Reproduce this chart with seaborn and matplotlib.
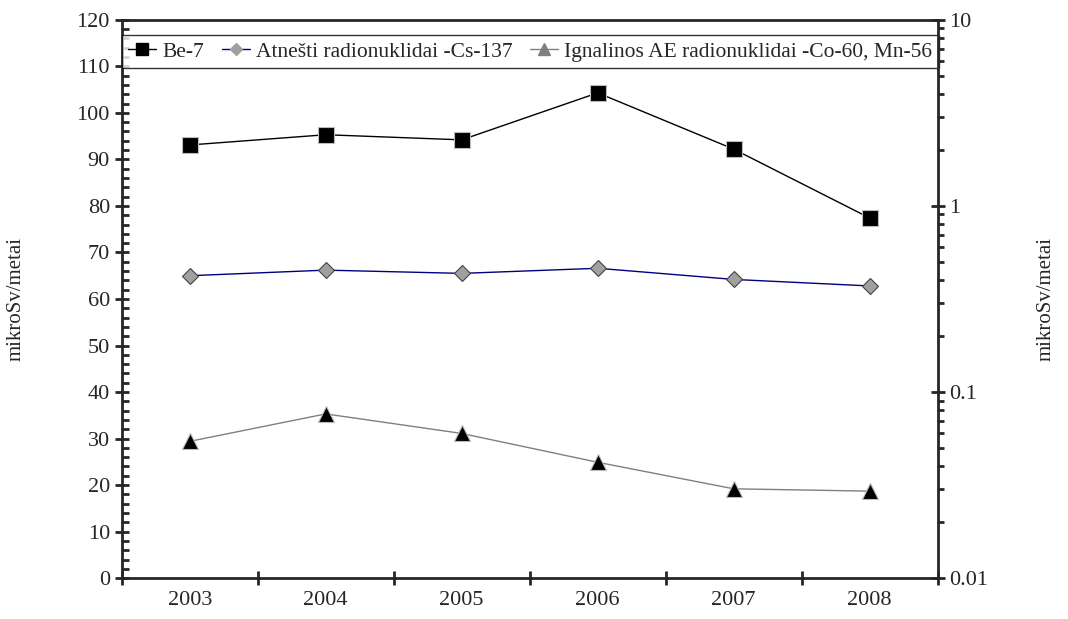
import numpy as np
import pandas as pd
import seaborn as sns
import matplotlib.pyplot as plt
from matplotlib.lines import Line2D
from matplotlib.ticker import MultipleLocator, LogLocator, NullFormatter

sns.set_style('ticks')
plt.rcParams['font.family'] = ['Liberation Serif', 'DejaVu Serif']
plt.rcParams['font.size'] = 16

# duomenys
metai = ['2003', '2004', '2005', '2006', '2007', '2008']
be7 = [93.1, 95.3, 94.2, 104.3, 92.2, 77.4]
cs137 = [65.0, 66.2, 65.5, 66.6, 64.2, 62.8]
co60 = [29.4, 35.3, 31.1, 24.9, 19.2, 18.7]

df = pd.DataFrame({'x': np.arange(len(metai)), 'be7': be7, 'cs': cs137, 'co': co60})

fig, ax = plt.subplots(figsize=(10.68, 6.19), dpi=100)
fig.subplots_adjust(left=0.114, right=0.878, top=0.968, bottom=0.066)

sns.lineplot(data=df, x='x', y='be7', ax=ax, color='black', lw=1, marker='s',
             markersize=11, markerfacecolor='black', markeredgecolor='#bbbbbb', markeredgewidth=0.8)
sns.lineplot(data=df, x='x', y='cs', ax=ax, color='#000080', lw=1, marker='D',
             markersize=8, markerfacecolor='#a0a0a0', markeredgecolor='#444444', markeredgewidth=0.8)
sns.lineplot(data=df, x='x', y='co', ax=ax, color='#808080', lw=1, marker='^',
             markersize=12, markerfacecolor='black', markeredgecolor='#bbbbbb', markeredgewidth=0.8)

ax.set_ylim(0, 120)
ax.set_xlim(-0.5, len(metai) - 0.5)
ax.yaxis.set_major_locator(MultipleLocator(10))
ax.yaxis.set_minor_locator(MultipleLocator(2))
ax.tick_params(axis='y', which='major', direction='inout', length=10, width=2, labelsize=16)
ax.tick_params(axis='y', which='minor', direction='in', length=5, width=2)

# x asis: zymes tarp kategoriju, etiketes centre
ax.set_xticks(np.arange(len(metai) + 1) - 0.5)
ax.set_xticklabels([])
ax.set_xticks(np.arange(len(metai)), minor=True)
ax.set_xticklabels(metai, minor=True)
ax.tick_params(axis='x', which='major', direction='inout', length=10, width=2)
ax.tick_params(axis='x', which='minor', length=0, pad=9, labelsize=16)

ax.set_xlabel('')
ax.set_ylabel('mikroSv/metai', fontsize=15)
ax.yaxis.set_label_coords(-0.118, 0.5)
for s in ['left', 'bottom', 'top']:
    ax.spines[s].set_linewidth(2)
ax.spines['right'].set_visible(False)

ax2 = ax.twinx()
ax2.set_yscale('log')
ax2.set_ylim(0.01, 10)
ax2.yaxis.set_minor_locator(LogLocator(base=10, subs=np.arange(2, 10)))
ax2.yaxis.set_minor_formatter(NullFormatter())
ax2.set_yticks([0.01, 0.1, 1, 10])
ax2.set_yticklabels(['0.01', '0.1', '1', '10'])
ax2.tick_params(axis='y', which='major', direction='inout', length=10, width=2, labelsize=16)
ax2.tick_params(axis='y', which='minor', direction='out', length=4, width=2)
ax2.set_ylabel('mikroSv/metai', fontsize=15)
ax2.yaxis.set_label_coords(1.121, 0.5)
for s in ['left', 'bottom', 'top', 'right']:
    ax2.spines[s].set_visible(s == 'right')
ax2.spines['right'].set_linewidth(2)

handles = [
    Line2D([], [], color='black', lw=1, marker='s', markersize=8, markerfacecolor='black', markeredgecolor='black'),
    Line2D([], [], color='#000080', lw=1, marker='D', markersize=6, markerfacecolor='#a0a0a0', markeredgecolor='#a0a0a0'),
    Line2D([], [], color='#808080', lw=1, marker='^', markersize=8, markerfacecolor='#808080', markeredgecolor='#808080'),
]
labels = ['Be-7', 'Atnešti radionuklidai -Cs-137', 'Ignalinos AE radionuklidai -Co-60, Mn-56']
leg = ax.legend(handles, labels, loc='upper left', bbox_to_anchor=(0, 0.972), ncol=3, fontsize=15.5,
                frameon=True, fancybox=False, edgecolor='black', borderaxespad=0,
                handlelength=1.3, handletextpad=0.3, columnspacing=0.8, borderpad=0.3)
leg.get_frame().set_linewidth(1)

fig.savefig('out.png', dpi=100)
